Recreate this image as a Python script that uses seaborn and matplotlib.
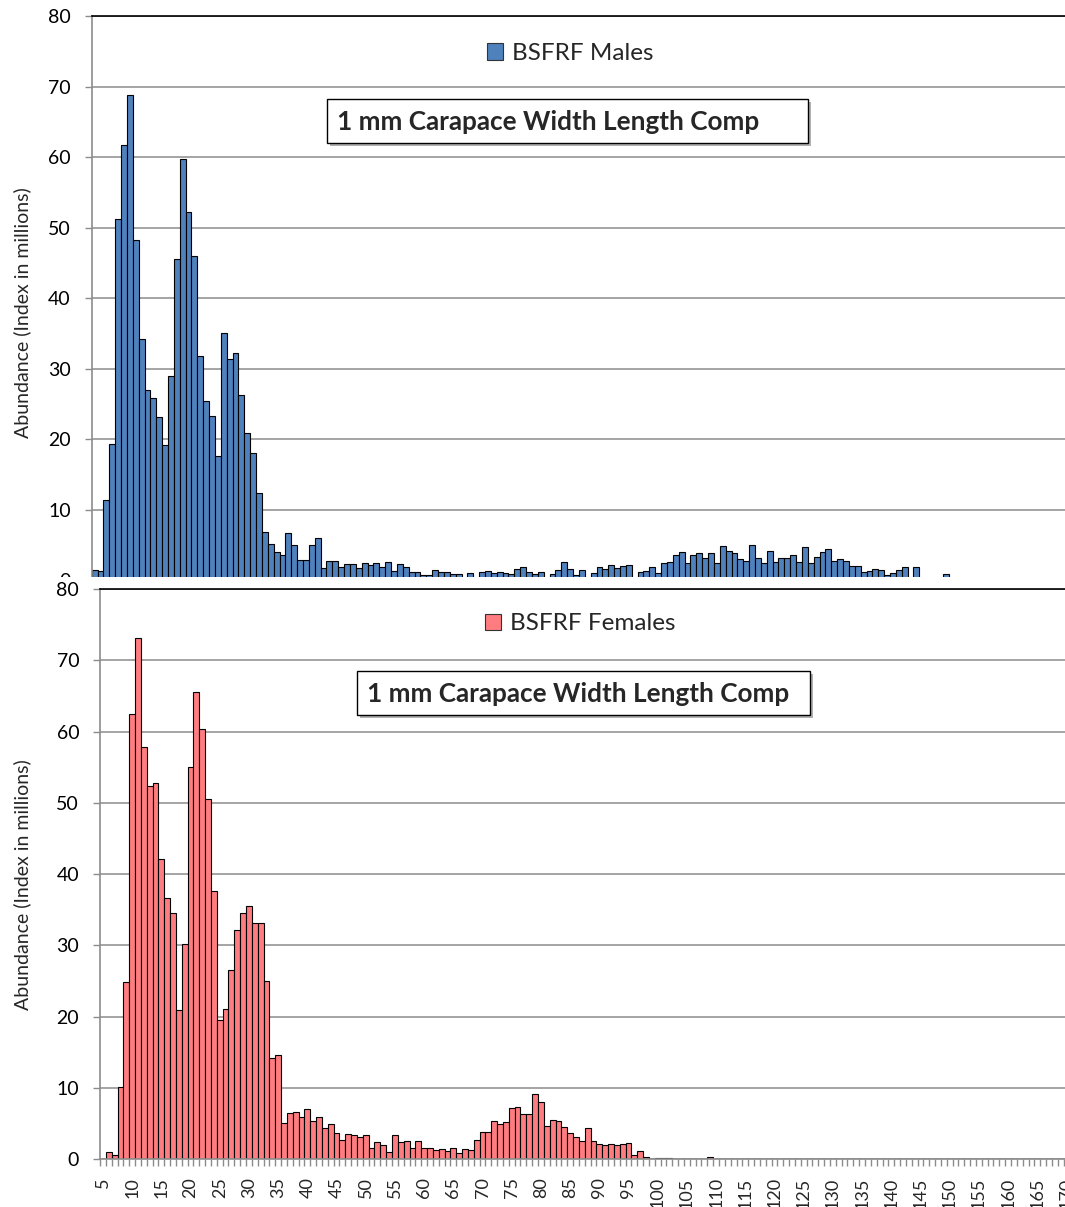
import matplotlib
matplotlib.use("Agg")
import matplotlib.pyplot as plt
from matplotlib.patches import Rectangle, Patch
import seaborn as sns
import pandas as pd

# ---------------- data ----------------
sizes = list(range(5, 171))  # carapace width categories (mm)

males = [
    1.4, 1.3, 11.3, 19.3, 51.2, 61.7, 68.9, 48.2, 34.2, 26.9,          # 5-14
    25.9, 23.1, 19.2, 28.9, 45.5, 59.8, 52.3, 46.0, 31.8, 25.4,        # 15-24
    23.3, 17.6, 35.1, 31.4, 32.2, 26.3, 20.8, 18.0, 12.3, 6.8,         # 25-34
    5.1, 4.0, 3.5, 6.7, 4.9, 2.8, 2.9, 4.9, 5.9, 1.7,                  # 35-44
    2.7, 2.7, 1.9, 2.3, 2.3, 1.7, 2.4, 2.1, 2.4, 1.9,                  # 45-54
    2.5, 1.3, 2.3, 1.8, 1.1, 1.1, 0.7, 0.7, 1.4, 1.1,                  # 55-64
    1.1, 0.8, 0.9, 0.0, 0.95, 0.0, 1.2, 1.3, 0.95, 1.1,                # 65-74
    1.0, 0.9, 1.5, 1.9, 1.2, 0.85, 1.1, 0.0, 0.9, 1.4,                 # 75-84
    2.5, 1.6, 0.75, 1.4, 0.0, 1.05, 1.9, 1.5, 2.1, 1.7,                # 85-94
    2.0, 2.1, 0.0, 1.2, 1.3, 1.8, 1.05, 2.35, 2.5, 3.5,                # 95-104
    4.0, 2.4, 3.5, 3.8, 3.1, 3.8, 2.4, 4.8, 4.1, 3.9,                  # 105-114
    2.95, 2.7, 4.9, 3.1, 2.4, 4.05, 2.6, 3.1, 3.1, 3.5,                # 115-124
    2.6, 4.7, 2.4, 3.2, 4.0, 4.4, 2.7, 3.0, 2.7, 2.0,                  # 125-134
    2.0, 1.15, 1.3, 1.5, 1.4, 0.7, 0.95, 1.4, 1.9, 0.0,                # 135-144
    1.9, 0.0, 0.0, 0.0, 0.0, 0.8, 0.0, 0.0, 0.0, 0.0,                  # 145-154
    0.0, 0.0, 0.0, 0.0, 0.0, 0.0, 0.0, 0.0, 0.0, 0.0,                  # 155-164
    0.0, 0.0, 0.0, 0.0, 0.0, 0.0,                                      # 165-170
]

females = [
    0.0, 1.07, 0.64, 10.2, 24.9, 62.5, 73.1, 57.9, 52.3, 52.8,         # 5-14
    42.1, 36.7, 34.6, 20.9, 30.2, 55.0, 65.5, 60.4, 50.6, 37.6,        # 15-24
    19.5, 21.1, 26.6, 32.2, 34.5, 35.6, 33.1, 33.2, 25.0, 14.2,        # 25-34
    14.65, 5.06, 6.46, 6.7, 5.9, 7.07, 5.34, 6.0, 4.45, 4.9,           # 35-44
    3.65, 2.76, 3.5, 3.37, 3.14, 3.37, 1.64, 2.48, 1.97, 1.03,         # 45-54
    3.47, 2.44, 2.58, 1.55, 2.62, 1.64, 1.55, 1.31, 1.4, 1.22,         # 55-64
    1.55, 0.89, 1.45, 1.36, 2.72, 3.84, 3.79, 5.34, 5.01, 5.2,         # 65-74
    7.17, 7.4, 6.32, 6.37, 9.18, 8.0, 4.68, 5.57, 5.43, 4.54,          # 75-84
    3.7, 3.18, 2.53, 4.4, 2.53, 2.2, 1.97, 2.2, 2.0, 2.1,              # 85-94
    2.3, 0.66, 1.12, 0.28, 0.0, 0.19, 0.19, 0.19, 0.0, 0.0,            # 95-104
    0.0, 0.0, 0.0, 0.0, 0.3, 0.0, 0.0, 0.0, 0.0, 0.0,                  # 105-114
    0.0, 0.0, 0.0, 0.0, 0.0, 0.0, 0.0, 0.0, 0.0, 0.0,                  # 115-124
    0.0, 0.0, 0.0, 0.0, 0.0, 0.0, 0.0, 0.0, 0.0, 0.0,                  # 125-134
    0.0, 0.0, 0.0, 0.0, 0.0, 0.0, 0.0, 0.0, 0.0, 0.0,                  # 135-144
    0.0, 0.0, 0.0, 0.0, 0.0, 0.0, 0.0, 0.0, 0.0, 0.0,                  # 145-154
    0.0, 0.0, 0.0, 0.0, 0.0, 0.0, 0.0, 0.0, 0.0, 0.0,                  # 155-164
    0.0, 0.0, 0.0, 0.0, 0.0, 0.0,                                      # 165-170
]

y_ticks = [0, 10, 20, 30, 40, 50, 60, 70, 80]
x_label_every = 5
legend_males = "BSFRF Males"
legend_females = "BSFRF Females"
box_title = "1 mm Carapace Width Length Comp"
y_title = "Abundance (Index in millions)"

# ---------------- style ----------------
sns.set_style("white")
plt.rcParams["font.family"] = ["Lato", "DejaVu Sans"]

W, H = 1065, 1207
fig = plt.figure(figsize=(W / 100, H / 100), dpi=100)


def fx(px):
    return px / W


def fy(py):
    return 1 - py / H


BLUE = "#4F81BD"
RED = "#FF7C80"
GRID = "#8C8C8C"
AXIS = "#8C8C8C"

cats = [str(s) for s in sizes]
df_m = pd.DataFrame({"size": cats, "value": males})
df_f = pd.DataFrame({"size": cats, "value": females})


def style_axes(ax):
    ax.set_ylim(0, 80)
    ax.set_xlim(-0.5, len(cats) - 0.5)
    ax.set_yticks(y_ticks)
    ax.set_yticklabels([str(t) for t in y_ticks])
    ax.yaxis.grid(True, color=GRID, linewidth=1.1)
    ax.xaxis.grid(False)
    ax.set_axisbelow(True)
    ax.tick_params(axis="y", which="major", direction="out", length=5,
                   width=1, color=AXIS, labelsize=14, pad=10,
                   left=True, labelcolor="black")
    ax.spines["left"].set_color(AXIS)
    ax.spines["left"].set_linewidth(1.2)
    ax.spines["top"].set_color("black")
    ax.spines["top"].set_linewidth(1.2)
    ax.spines["right"].set_color("black")
    ax.set_xlabel("")
    ax.set_ylabel("")
    for p in ax.patches:
        if p.get_height() == 0:
            p.set_visible(False)


# ---------- top panel (males) ----------
ax1 = fig.add_axes([fx(91.7), fy(580), fx(974.4), (580 - 16.4) / H])
ax1.set_zorder(0)
sns.barplot(data=df_m, x="size", y="value", order=cats, color=BLUE,
            saturation=1, width=1, edgecolor="black", linewidth=0.8,
            errorbar=None, ax=ax1)
style_axes(ax1)
ax1.spines["bottom"].set_visible(False)
ax1.set_xticks([])

# white band where the lower chart overlaps the upper one
band = Rectangle((0, fy(589)), 1, (589 - 576.5) / H, transform=fig.transFigure,
                 facecolor="white", edgecolor="none", zorder=0.5)
fig.patches.append(band)

# ---------- bottom panel (females) ----------
ax2 = fig.add_axes([fx(100), fy(1159.3), fx(969.4), (1159.3 - 589) / H])
ax2.set_zorder(1)
sns.barplot(data=df_f, x="size", y="value", order=cats, color=RED,
            saturation=1, width=1, edgecolor="black", linewidth=0.8,
            errorbar=None, ax=ax2)
style_axes(ax2)
ax2.spines["bottom"].set_color(AXIS)
ax2.spines["bottom"].set_linewidth(1.2)
major = list(range(0, len(cats), x_label_every))
ax2.set_xticks(major)
ax2.set_xticklabels([cats[i] for i in major], rotation=90, va="top", ha="center")
ax2.set_xticks([i - 0.5 for i in range(len(cats) + 1)], minor=True)
ax2.tick_params(axis="x", which="major", length=0, pad=13, labelsize=13,
                bottom=True)
ax2.tick_params(axis="x", which="minor", length=5, width=1, color=AXIS,
                direction="out", bottom=True)

# ---------- legends ----------
h_m = [Patch(facecolor=BLUE, edgecolor="#333333", linewidth=0.8, label=legend_males)]
h_f = [Patch(facecolor=RED, edgecolor="#333333", linewidth=0.8, label=legend_females)]
fig.legend(handles=h_m, loc="center", bbox_to_anchor=(fx(570), fy(53.5)),
           frameon=False, fontsize=17.5, handlelength=0.68, handleheight=0.68,
           handletextpad=0.35, borderpad=0, borderaxespad=0)
fig.legend(handles=h_f, loc="center", bbox_to_anchor=(fx(580), fy(624)),
           frameon=False, fontsize=17.5, handlelength=0.68, handleheight=0.68,
           handletextpad=0.35, borderpad=0, borderaxespad=0)


# ---------- title boxes ----------
def title_box(x0, y0, x1, y1, text_x):
    sh = Rectangle((fx(x0 + 3), fy(y1 + 3)), fx(x1 - x0), (y1 - y0) / H,
                   transform=fig.transFigure, facecolor="#B0B0B0",
                   edgecolor="none", zorder=3)
    bx = Rectangle((fx(x0), fy(y1)), fx(x1 - x0), (y1 - y0) / H,
                   transform=fig.transFigure, facecolor="white",
                   edgecolor="black", linewidth=1.0, zorder=4)
    fig.patches.extend([sh, bx])
    fig.text(fx(text_x), fy((y0 + y1) / 2 + 1), box_title, fontsize=18.8,
             fontweight="bold", ha="left", va="center", zorder=5)


title_box(327, 99, 808, 143, 337)
title_box(357, 671, 810, 715, 367)

# ---------- y-axis titles ----------
fig.text(fx(22), fy(313), y_title, rotation=90, ha="center", va="center",
         fontsize=14)
fig.text(fx(22), fy(885), y_title, rotation=90, ha="center", va="center",
         fontsize=14)

fig.savefig("out.png", dpi=100)
